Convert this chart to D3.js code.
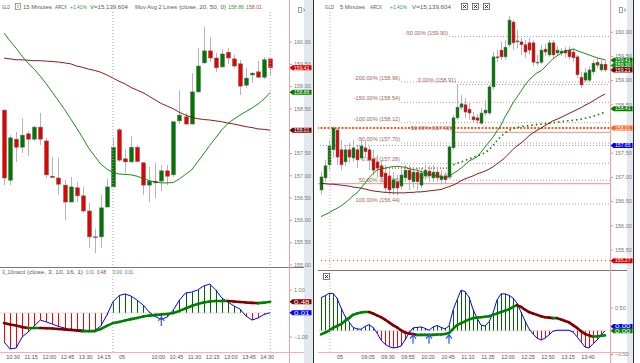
<!DOCTYPE html>
<html><head><meta charset="utf-8">
<script src="https://cdn.jsdelivr.net/npm/d3@7"></script>
<style>
body{margin:0;background:#fff;}
svg{display:block;font-family:"Liberation Sans",Arial,sans-serif;}
</style></head><body>
<svg id="chart" width="640" height="363"></svg>
<script>
// ---- left panel, 15 minute bars [open, high, low, close]
var leftCandles = [
 [158.46,158.49,156.78,156.94],[156.89,157.90,156.78,157.84],[157.81,157.97,157.30,157.63],
 [157.63,158.28,157.50,157.90],[157.93,157.99,157.43,157.81],[157.81,158.11,157.77,158.08],
 [158.08,158.40,157.68,157.81],[157.77,157.84,156.94,157.01],[156.98,157.41,156.94,156.95],
 [156.94,157.39,156.56,156.80],[156.78,156.89,156.00,156.40],[156.40,156.96,156.40,156.74],
 [156.72,156.85,156.40,156.54],[156.54,156.74,156.15,156.20],[156.20,156.38,155.37,155.62],
 [155.62,155.80,155.26,155.61],[155.62,156.56,155.37,156.27],[156.29,156.92,156.27,156.74],
 [156.74,157.84,156.72,157.63],[158.02,158.06,157.30,157.34],[157.37,157.59,157.05,157.30],
 [157.30,157.88,157.28,157.63],[157.63,157.68,157.30,157.31],[157.28,157.30,156.56,156.78],
 [156.78,157.19,156.40,156.87],[156.87,157.28,156.49,156.83],[156.87,157.23,156.65,157.10],
 [157.10,157.23,156.78,156.98],[157.01,158.20,156.96,158.20],[158.22,158.91,158.15,158.35],
 [158.31,158.40,158.13,158.15],[158.15,159.29,158.13,158.87],[158.87,159.85,158.85,159.45],
 [159.52,160.33,159.50,159.79],[159.79,160.10,159.54,159.63],[159.63,159.74,159.32,159.41],
 [159.43,159.83,159.41,159.72],[159.76,159.85,159.50,159.63],[159.61,159.70,159.41,159.45],
 [159.50,159.59,158.80,159.00],[159.02,159.41,158.96,159.18],[159.25,159.32,159.07,159.29],
 [159.32,159.56,159.18,159.20],[159.20,159.65,159.16,159.59],[159.61,159.61,159.25,159.41]
];
var leftMa20 = [160.19,160.01,159.85,159.67,159.51,159.38,159.22,159.05,158.86,158.67,158.48,158.27,
 158.06,157.84,157.61,157.43,157.25,157.14,157.06,157.03,157.02,157.01,156.98,156.93,156.88,156.85,
 156.83,156.83,156.84,156.92,157.02,157.12,157.30,157.48,157.67,157.84,158.02,158.16,158.26,158.35,
 158.43,158.51,158.60,158.71,158.86];
var leftMa50 = [159.63,159.61,159.59,159.59,159.58,159.57,159.57,159.56,159.55,159.54,159.52,159.50,
 159.45,159.42,159.38,159.35,159.31,159.25,159.18,159.11,159.05,158.97,158.91,158.85,158.77,158.69,
 158.61,158.55,158.49,158.41,158.35,158.30,158.27,158.25,158.24,158.22,158.20,158.17,158.15,158.12,
 158.09,158.07,158.04,158.03,158.01];
var leftMacd = [-1.23,-1.53,-1.49,-1.02,-0.81,-0.55,-0.30,-0.38,-0.47,-0.57,-0.64,-0.72,-0.72,-0.72,
 -0.77,-0.74,-0.55,-0.09,0.47,0.74,0.81,0.72,0.55,0.34,0.04,-0.15,-0.28,-0.17,0.13,0.55,0.85,0.89,
 0.98,1.15,1.23,0.98,0.64,0.47,0.30,0.17,-0.13,-0.30,-0.21,-0.06,0.01];
var leftSignal = [-0.43,-0.49,-0.53,-0.60,-0.64,-0.64,-0.64,-0.65,-0.66,-0.68,-0.70,-0.72,-0.74,-0.77,
 -0.77,-0.77,-0.68,-0.55,-0.43,-0.38,-0.32,-0.26,-0.21,-0.15,-0.11,-0.09,-0.06,-0.04,0.00,0.09,0.19,
 0.30,0.38,0.45,0.49,0.51,0.51,0.51,0.49,0.47,0.45,0.43,0.42,0.44,0.48];
var leftTimeTicks = [[1,"10:30"],[4,"11:15"],[7,"12:00"],[10,"12:45"],[13,"13:30"],[16,"14:15"],
 [19,"05"],[25,"10:00"],[28,"10:45"],[31,"11:30"],[34,"12:15"],[37,"13:00"],[40,"13:45"],[43,"14:30"]];
var leftPriceTicks = [155.00,155.50,156.00,156.50,157.00,157.50,158.50,159.00,159.50,160.00];
var leftMacdTicks = [-1.00,1.00];
var leftArrows = [26];
// badges: [value, colour, shown text]
var leftBadges = [[159.41,"#e00000","159.41"],[158.86,"#008000","158.86"],[158.01,"#800000","158.01"]];
var leftMacdBadges = [[0.48,"#800000","0.48"],[0.01,"#0000ff","0.01"]];

// ---- right panel, 5 minute bars [open, high, low, close]
var rightCandles = [
 [156.73,157.10,156.63,157.00],[156.98,157.35,156.90,157.23],[157.25,157.76,157.14,157.64],
 [157.56,158.05,157.39,158.01],[157.97,158.01,157.25,157.41],[157.56,157.76,157.14,157.25],
 [157.31,157.66,157.23,157.56],[157.56,157.70,157.29,157.41],[157.39,157.76,157.31,157.60],
 [157.56,157.66,157.18,157.35],[157.39,157.80,157.35,157.64],[157.60,157.76,157.39,157.52],
 [157.56,157.64,157.14,157.35],[157.37,157.56,157.04,157.14],[157.31,157.45,156.98,157.18],
 [157.23,157.35,156.90,157.00],[157.08,157.25,156.69,156.77],[157.02,157.14,156.63,156.73],
 [156.77,157.10,156.63,156.94],[156.90,157.04,156.61,156.77],[156.81,157.14,156.73,157.04],
 [156.98,157.25,156.90,157.14],[157.14,157.25,156.73,156.94],[156.90,157.18,156.77,157.10],
 [157.10,157.18,156.73,156.90],[156.83,157.18,156.77,157.08],[157.02,157.25,156.94,157.14],
 [157.12,157.23,156.90,157.02],[156.98,157.25,156.90,157.10],[157.10,157.18,156.90,156.98],
 [156.94,157.14,156.85,157.02],[157.02,157.10,156.85,156.94],[157.00,157.66,156.94,157.62],
 [157.60,158.28,157.56,158.22],[158.22,158.90,158.18,158.44],[158.44,158.69,158.38,158.51],
 [158.49,158.63,158.22,158.34],[158.40,158.53,158.18,158.32],[158.24,158.34,158.11,158.18],
 [158.22,158.30,158.09,158.17],[158.11,158.42,158.07,158.32],[158.32,158.59,158.26,158.38],
 [158.32,158.90,158.28,158.86],[158.86,159.58,158.80,159.48],[159.48,159.62,159.37,159.46],
 [159.62,159.79,159.42,159.48],[159.48,159.83,159.42,159.68],[159.73,160.32,159.68,160.24],
 [160.20,160.24,159.62,159.77],[159.81,160.04,159.66,159.79],[159.79,159.87,159.52,159.73],
 [159.73,159.83,159.46,159.58],[159.77,159.87,159.52,159.62],[159.77,159.83,159.29,159.37],
 [159.37,159.52,159.29,159.36],[159.37,159.73,159.33,159.62],[159.64,159.75,159.50,159.58],
 [159.52,159.83,159.48,159.77],[159.77,159.83,159.46,159.52],[159.56,159.70,159.50,159.62],
 [159.56,159.66,159.50,159.60],[159.62,159.68,159.46,159.56],[159.62,159.70,159.42,159.48],
 [159.58,159.66,159.37,159.46],[159.48,159.52,159.04,159.11],[159.06,159.17,158.84,158.90],
 [159.00,159.25,158.96,159.15],[159.00,159.29,158.96,159.21],[159.17,159.42,159.11,159.35],
 [159.37,159.46,159.25,159.31],[159.21,159.42,159.17,159.33],[159.33,159.42,159.17,159.21]
];
var rightMa20 = [156.18,156.22,156.26,156.31,156.35,156.40,156.46,156.53,156.61,156.67,156.77,156.87,
 156.98,157.07,157.14,157.16,157.18,157.20,157.21,157.22,157.21,157.20,157.17,157.15,157.14,157.11,
 157.09,157.06,157.04,157.02,157.00,156.98,157.01,157.07,157.12,157.18,157.25,157.33,157.37,157.41,
 157.51,157.62,157.72,157.82,157.95,158.07,158.24,158.38,158.53,158.65,158.77,158.90,159.00,159.08,
 159.15,159.19,159.27,159.36,159.44,159.50,159.55,159.59,159.62,159.64,159.61,159.58,159.55,159.52,
 159.49,159.46,159.44,159.42];
var rightMa50 = [156.87,156.86,156.85,156.85,156.84,156.83,156.82,156.81,156.79,156.78,156.77,156.75,
 156.73,156.71,156.70,156.69,156.68,156.68,156.67,156.67,156.67,156.67,156.68,156.68,156.69,156.69,
 156.70,156.71,156.72,156.73,156.74,156.77,156.80,156.83,156.87,156.92,156.96,156.99,157.02,157.06,
 157.09,157.12,157.16,157.21,157.27,157.33,157.40,157.48,157.57,157.64,157.70,157.77,157.85,157.91,
 157.96,158.01,158.06,158.11,158.16,158.19,158.23,158.27,158.31,158.35,158.39,158.43,158.48,158.52,
 158.57,158.62,158.67,158.71];
var rightDotGreen = [null,null,null,null,null,null,null,null,null,null,null,null,null,null,null,null,
 null,null,null,null,null,null,null,null,null,null,null,null,null,null,null,null,
 157.22,157.25,157.28,157.31,157.34,157.37,157.40,157.43,157.46,157.50,157.56,157.65,157.75,157.84,
 157.91,157.96,158.00,158.02,158.04,158.05,158.06,158.07,158.08,158.09,158.10,158.11,158.12,158.13,
 158.14,158.15,158.16,158.17,158.18,158.19,158.21,158.23,158.25,158.28,158.31,158.34];
var rightMacd = [0.71,0.75,0.80,0.80,0.70,0.49,0.31,0.19,0.07,0.04,0.03,0.09,0.13,0.07,-0.05,-0.20,
 -0.29,-0.34,-0.37,-0.36,-0.33,-0.20,-0.05,0.06,0.07,0.08,0.05,0.01,0.08,0.11,0.07,0.04,0.10,0.44,
 0.66,0.87,0.84,0.72,0.46,0.27,0.12,0.10,0.19,0.38,0.66,0.79,0.79,0.76,0.70,0.59,0.40,0.21,0.04,
 -0.07,-0.16,-0.20,-0.16,-0.09,-0.01,0.01,0.01,0.01,0.01,-0.03,-0.13,-0.24,-0.35,-0.37,-0.28,-0.20,
 -0.10,0.00];
var rightSignal = [-0.08,-0.04,0.00,0.06,0.10,0.14,0.21,0.27,0.34,0.37,0.39,0.40,0.40,0.37,0.33,0.29,
 0.24,0.18,0.12,0.07,0.01,-0.04,-0.06,-0.07,-0.09,-0.09,-0.09,-0.09,-0.09,-0.08,-0.08,-0.07,-0.05,
 0.04,0.12,0.16,0.20,0.24,0.27,0.28,0.29,0.30,0.31,0.34,0.37,0.40,0.43,0.46,0.51,0.55,0.51,0.45,
 0.40,0.37,0.34,0.31,0.29,0.28,0.27,0.27,0.24,0.21,0.18,0.12,0.06,-0.01,-0.07,-0.10,-0.13,-0.12,
 -0.11,-0.10];
var rightTimeTicks = [[4,"05"],[11,"09:05"],[16,"09:30"],[21,"09:55"],[26,"10:20"],[31,"10:45"],
 [36,"11:10"],[41,"11:35"],[46,"12:00"],[51,"12:25"],[56,"12:50"],[61,"13:15"],[66,"13:40"]];
var rightPriceTicks = [155.50,156.00,156.50,157.00,157.50,158.50,159.00,159.50,160.00];
var rightMacdTicks = [-0.50,0.50];
var rightArrows = [23,27,32];
// fib levels: [label, price, start bar, solid?]
var fibLevels = [
 ["-200.00% (158.96)",158.96,20,false],["-150.00% (158.54)",158.54,20,false],
 ["-100.00% (158.12)",158.12,20,false],["-50.00% (157.70)",157.70,20,false],
 ["0.00% (157.28)",157.28,20,false],["50.00% (156.86)",156.86,0,true],
 ["100.00% (156.44)",156.44,20,false],
 ["-50.00% (159.90)",159.90,32,false],["0.00% (158.91)",158.91,34,false],
 ["50.00% (157.92)",157.92,33,true],["100.00% (156.93)",156.93,33,false]
];
// plain levels: [price, colour, width, dash, first bar, last bar]
var rightLevels = [[158.01,"#ff5a1e",2.2,"2,1.5",0],[157.65,"#8c8cff",1,"1,2",0],
 [155.27,"#e04848",1,"1,3",0],[157.18,"#ff2020",1.2,"1,2",14,32]];
var rightBadges = [[159.41,"#008000","159.41"],[159.30,"#1a8a1a","159.30"],[159.21,"#800000","159.21"],
 [158.41,"#008000","158.41"],[158.01,"#ff6420","158.01"],[157.65,"#0000ff","157.65"],[155.27,"#e00000","155.27"]];
var rightMacdBadges = [[0.09,"#0000ff","0.00"],[0.00,"#008000","0.00"]];

var svg = d3.select("#chart");
var fmt = d3.format(".2f");
var GREEN = "#007800", RED = "#e60000", DKRED = "#800000";

// title text squeezed to the width it has in the window
function text(g, x, y, s, col, w) {
    var t = g.append("text").attr("x", x).attr("y", y).attr("fill", col || "#5a5a5a")
        .attr("font-size", 6).text(s);
    if (w) t.attr("textLength", w).attr("lengthAdjust", "spacingAndGlyphs");
    return t;
}

function badge(g, x, y, label, col) {
    g.append("path")
        .attr("d", "M" + x + "," + y + "l3,-2.5h19v5h-19z")
        .attr("fill", col);
    g.append("text").attr("x", x + 4.5).attr("y", y + 1.8).attr("fill", "#fff")
        .attr("font-size", 5).attr("textLength", 15.5).attr("lengthAdjust", "spacingAndGlyphs").text(label);
}

function drawPanel(p) {
    var g = svg.append("g");
    var x = d3.scaleLinear().domain([0, p.n - 1]).range(p.xr);
    var y = d3.scaleLinear().domain(p.pd).range(p.pr);
    var ym = d3.scaleLinear().domain(p.md).range(p.mr);

    // grey strip at the right edge of each chart window
    g.append("rect").attr("x", p.stripX).attr("y", 0).attr("width", p.stripW).attr("height", 363).attr("fill", "#e3e8ee");
    g.append("line").attr("x1", p.stripX + p.stripW + 0.5).attr("x2", p.stripX + p.stripW + 0.5)
        .attr("y1", 0).attr("y2", 363).attr("stroke", "#333");

    var cid = "c" + p.id;
    var defs = svg.append("defs");
    defs.append("clipPath").attr("id", cid + "p").append("rect")
        .attr("x", p.left).attr("y", 12).attr("width", p.axisX - p.left).attr("height", p.sep - 12);
    defs.append("clipPath").attr("id", cid + "m").append("rect")
        .attr("x", p.left).attr("y", p.sep + 1).attr("width", p.axisX - p.left).attr("height", 352 - p.sep - 1);

    var gp = g.append("g").attr("clip-path", "url(#" + cid + "p)");
    var gm = g.append("g").attr("clip-path", "url(#" + cid + "m)");

    // vertical dotted guides
    p.vlines.forEach(function (vx) {
        g.append("line").attr("x1", x(vx)).attr("x2", x(vx)).attr("y1", 12).attr("y2", 352)
            .attr("stroke", p.vcol).attr("stroke-dasharray", "1,2");
    });

    if (p.extra) p.extra(gp, x, y);

    // candles
    var c = gp.selectAll(null).data(p.candles).enter().append("g");
    c.append("line")
        .attr("x1", function (d, i) { return Math.round(x(i)) + 0.5; })
        .attr("x2", function (d, i) { return Math.round(x(i)) + 0.5; })
        .attr("y1", function (d) { return y(d[1]); })
        .attr("y2", function (d) { return y(d[2]); })
        .attr("stroke", "#b4b4b4");
    c.append("rect")
        .attr("x", function (d, i) { return Math.round(x(i)) + 0.5 - p.bw / 2; })
        .attr("y", function (d) { return y(Math.max(d[0], d[3])); })
        .attr("width", p.bw)
        .attr("height", function (d) { return Math.max(0.8, Math.abs(y(d[0]) - y(d[3]))); })
        .attr("fill", function (d) { return d[3] >= d[0] ? GREEN : RED; })
        .attr("stroke", "#6a6a6a").attr("stroke-width", 0.5);

    // moving averages
    var line = d3.line().defined(function (d) { return d != null; })
        .x(function (d, i) { return x(i); }).y(function (d) { return y(d); });
    gp.append("path").attr("d", line(p.ma50)).attr("fill", "none").attr("stroke", DKRED).attr("stroke-width", 0.9);
    gp.append("path").attr("d", line(p.ma20)).attr("fill", "none").attr("stroke", "#008000").attr("stroke-width", 0.9);
    if (p.dotGreen)
        gp.append("path").attr("d", line(p.dotGreen)).attr("fill", "none").attr("stroke", "#008000")
            .attr("stroke-width", 1.6).attr("stroke-dasharray", "1.5,3");

    // separator between price and macd
    g.append("line").attr("x1", p.left).attr("x2", p.stripX).attr("y1", p.sep + 0.5).attr("y2", p.sep + 0.5)
        .attr("stroke", "#777");

    // macd histogram
    gm.selectAll(null).data(p.macd).enter().append("line")
        .attr("x1", function (d, i) { return Math.round(x(i)) + 0.5; })
        .attr("x2", function (d, i) { return Math.round(x(i)) + 0.5; })
        .attr("y1", ym(0)).attr("y2", function (d) { return ym(d); })
        .attr("stroke", function (d) { return d >= 0 ? "#006400" : "#ff0000"; });
    gm.append("line").attr("x1", p.left).attr("x2", x(p.n - 1)).attr("y1", ym(0)).attr("y2", ym(0))
        .attr("stroke", "#c8c8c8").attr("stroke-width", 0.6);
    var mline = d3.line().x(function (d, i) { return x(i); }).y(function (d) { return ym(d); });
    gm.append("path").attr("d", mline(p.macd)).attr("fill", "none").attr("stroke", "#0000ff").attr("stroke-width", 1);
    // signal, coloured by slope
    for (var i = 0; i < p.signal.length - 1; i++) {
        gm.append("line").attr("x1", x(i)).attr("x2", x(i + 1))
            .attr("y1", ym(p.signal[i])).attr("y2", ym(p.signal[i + 1]))
            .attr("stroke", p.signal[i + 1] >= p.signal[i] ? "#008000" : DKRED)
            .attr("stroke-width", 2.6).attr("stroke-linecap", "round");
    }
    p.arrows.forEach(function (a) {
        var ax = x(a), ay = ym(0) + 4;
        gm.append("path").attr("d", "M" + ax + "," + ay + "l-3,4M" + ax + "," + ay + "l3,4M" + ax + "," + ay + "v9")
            .attr("stroke", "#3050ff").attr("stroke-width", 1.2).attr("fill", "none");
    });

    // price axis
    var ax = g.append("g").attr("transform", "translate(" + (p.axisX + 0.5) + ",0)")
        .call(d3.axisRight(y).tickValues(p.pticks).tickFormat(fmt).tickSize(2.5).tickPadding(2));
    ax.select(".domain").remove();
    var mx = g.append("g").attr("transform", "translate(" + (p.axisX + 0.5) + ",0)")
        .call(d3.axisRight(ym).tickValues(p.mticks).tickFormat(fmt).tickSize(2.5).tickPadding(2));
    mx.select(".domain").remove();
    [ax, mx].forEach(function (a) {
        a.selectAll("line").attr("stroke", "#f08a8a");
        a.selectAll("text").attr("fill", "#777").attr("font-size", 5.5).attr("font-family", null);
    });
    g.append("line").attr("x1", p.axisX + 0.5).attr("x2", p.axisX + 0.5).attr("y1", 0).attr("y2", 363)
        .attr("stroke", "#f4a0a0");

    // time axis
    var tx = g.append("g").attr("transform", "translate(2.5,352.5)")
        .call(d3.axisBottom(x).tickValues(p.tticks.map(function (t) { return t[0]; }))
            .tickFormat(function (d) { return p.tticks.find(function (t) { return t[0] === d; })[1]; })
            .tickSize(0).tickPadding(2.5));
    tx.select(".domain").remove();
    tx.selectAll("text").attr("fill", "#555").attr("font-size", 5.5).attr("font-family", null);
    g.append("line").attr("x1", p.left).attr("x2", p.stripX).attr("y1", 352.5).attr("y2", 352.5).attr("stroke", "#f4b0b0");

    p.badges.forEach(function (b) { badge(g, p.axisX + 0.5, y(b[0]), b[2], b[1]); });
    p.mbadges.forEach(function (b) { badge(g, p.axisX + 0.5, ym(b[0]), b[2], b[1]); });

    // small window icon at top right
    g.append("rect").attr("x", p.axisX + 9.5).attr("y", 7.5).attr("width", 3).attr("height", 5)
        .attr("fill", "none").attr("stroke", "#777").attr("stroke-width", 0.7);
    g.append("path").attr("d", "M" + (p.axisX + 14) + ",8.5l2,1.5l-2,1.5").attr("fill", "none")
        .attr("stroke", "#777").attr("stroke-width", 0.7);
    return {x: x, y: y, g: g};
}

// ---- left chart
var L = drawPanel({
    id: "l", n: leftCandles.length, xr: [4, 270.2], pd: [155, 160], pr: [264.5, 41.5],
    md: [-1, 1], mr: [336.5, 289.5], left: 0, axisX: 289, sep: 267, stripX: 304, stripW: 9,
    bw: 4, candles: leftCandles, ma20: leftMa20, ma50: leftMa50, macd: leftMacd, signal: leftSignal,
    arrows: leftArrows, pticks: leftPriceTicks, mticks: leftMacdTicks, tticks: leftTimeTicks,
    badges: leftBadges, mbadges: leftMacdBadges, vlines: [18, 44], vcol: "#aaa"
});
var tl = L.g;
text(tl, 2, 9, "GLD", null, 8);
tl.append("rect").attr("x", 15.5).attr("y", 3.5).attr("width", 5).attr("height", 6).attr("fill", "none").attr("stroke", "#777").attr("stroke-width", 0.7);
tl.append("path").attr("d", "M17,5l2,1.5l-2,1.5").attr("fill", "none").attr("stroke", "#777").attr("stroke-width", 0.6);
text(tl, 23, 9, "15 Minutes", null, 29);
text(tl, 55, 9, "ARCX", null, 12);
text(tl, 70, 9, "+1.41%", "#2f9a2f", 17);
text(tl, 90, 9, "V=15,139,604", null, 38);
text(tl, 135, 9, "Mov Avg 2 Lines", null, 42);
text(tl, 179, 9, "(close,  20,  50,  0)", null, 47);
text(tl, 228, 9, "158.86", "#3c9a3c", 16);
text(tl, 246, 9, "158.01", "#b05050", 16);
text(tl, 2, 274, "3_10macd", null, 23);
text(tl, 27, 274, "(close, 3, 10, 16, 1)", null, 56);
text(tl, 86, 274, "0.01", "#2f9a2f", 8);
text(tl, 97, 274, "0.48", "#a04040", 9);
text(tl, 113, 274, "0.00", "#2f9a2f", 9);
text(tl, 125, 274, "0.01", "#5050ff", 8);

// ---- right chart
var R = drawPanel({
    id: "r", n: rightCandles.length, xr: [321, 605], pd: [155.5, 160], pr: [249.5, 31.7],
    md: [-0.5, 0.5], mr: [354, 307.4], left: 318, axisX: 610, sep: 270, stripX: 627, stripW: 6,
    bw: 3, candles: rightCandles, ma20: rightMa20, ma50: rightMa50, dotGreen: rightDotGreen,
    macd: rightMacd, signal: rightSignal, arrows: rightArrows, pticks: rightPriceTicks,
    mticks: rightMacdTicks, tticks: rightTimeTicks, badges: rightBadges, mbadges: rightMacdBadges,
    vlines: [2.25], vcol: "#e0a0a0",
    extra: function (gp, x, y) {
        rightLevels.forEach(function (l) {
            gp.append("line").attr("x1", x(l[4]) - (l[4] ? 0 : 4)).attr("x2", l[5] ? x(l[5]) : 610)
                .attr("y1", y(l[0])).attr("y2", y(l[0]))
                .attr("stroke", l[1]).attr("stroke-width", l[2]).attr("stroke-dasharray", l[3]);
        });
        fibLevels.forEach(function (f) {
            var sx = f[2] ? x(f[2]) : 318;
            gp.append("line").attr("x1", sx).attr("x2", 610).attr("y1", y(f[1])).attr("y2", y(f[1]))
                .attr("stroke", f[3] ? "#e8a8a8" : "#b89090")
                .attr("stroke-width", f[3] ? 1.2 : 0.9).attr("stroke-dasharray", f[3] ? null : "1,2");
            gp.append("text").attr("x", f[2] ? sx - 1 : x(20) - 1).attr("y", y(f[1]) - 2)
                .attr("text-anchor", "end").attr("font-size", 5.6).attr("fill", "#9a6a5a").text(f[0]);
        });
    }
});
var tr = R.g;
text(tr, 325, 9, "GLD", null, 9);
text(tr, 340, 9, "5 Minutes", null, 25);
text(tr, 370, 9, "ARCX", null, 12);
text(tr, 390, 9, "+1.41%", "#2f9a2f", 17);
text(tr, 412, 9, "V=15,139,604", null, 39);
[461, 472, 483].forEach(function (bx) {
    tr.append("rect").attr("x", bx + 0.5).attr("y", 3.5).attr("width", 6).attr("height", 6)
        .attr("fill", "#fff").attr("stroke", "#444").attr("stroke-width", 0.7);
    tr.append("path").attr("d", "M" + (bx + 2) + ",5l3,3M" + (bx + 5) + ",5l-3,3")
        .attr("stroke", "#222").attr("stroke-width", 0.9);
});
tr.append("rect").attr("x", 323.5).attr("y", 273.5).attr("width", 6).attr("height", 6)
    .attr("fill", "#fff").attr("stroke", "#444").attr("stroke-width", 0.7);
tr.append("path").attr("d", "M325,275l3,3M328,275l-3,3").attr("stroke", "#222").attr("stroke-width", 0.9);
</script>
</body></html>
